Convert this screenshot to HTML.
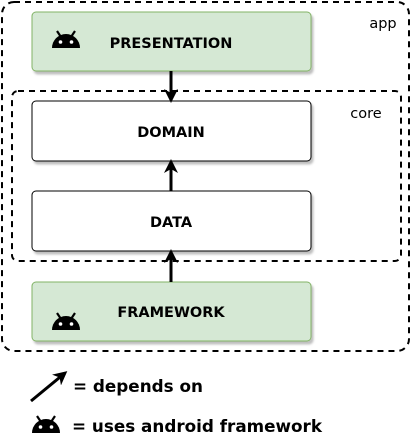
<!DOCTYPE html>
<html><head><style>
body{margin:0;width:412px;height:442px;background:#fff;overflow:hidden}
</style></head><body>
<svg width="412" height="442" xmlns="http://www.w3.org/2000/svg" font-family="'DejaVu Sans',Verdana,sans-serif">
<defs>
<marker id="ah" markerWidth="14" markerHeight="14" refX="11" refY="7" orient="auto" markerUnits="userSpaceOnUse">
<path d="M0,0 L14,7 L0,14 L4,7 Z" fill="#000"/></marker>
<g id="droid"><path d="M0,17 A14,14 0 0 1 28,17 Z" fill="#000"/><line x1="5" y1="0" x2="9" y2="6" stroke="#000" stroke-width="2.2"/><line x1="23" y1="0" x2="19" y2="6" stroke="#000" stroke-width="2.2"/><circle cx="8.5" cy="11" r="1.8" fill="#fff"/><circle cx="19.5" cy="11" r="1.8" fill="#fff"/></g>
<filter id="sh"><feDropShadow dx="2" dy="3" stdDeviation="1" flood-opacity="0.25"/></filter>
</defs>
<rect x="2" y="2" width="407" height="349" rx="12" fill="none" stroke="#000" stroke-width="2" stroke-dasharray="6,5"/>
<text x="383" y="28" font-size="14.5" text-anchor="middle">app</text>
<rect x="12" y="91" width="389" height="170" rx="6" fill="none" stroke="#000" stroke-width="2" stroke-dasharray="6,5"/>
<text x="366" y="118" font-size="14.5" text-anchor="middle">core</text>
<rect x="32" y="12" width="279" height="59" rx="4" fill="#d5e8d4" stroke="#82b366" filter="url(#sh)"/>
<use href="#droid" x="52" y="31"/>
<text x="171" y="48" font-size="14.5" font-weight="bold" text-anchor="middle">PRESENTATION</text>
<rect x="32" y="101" width="279" height="60" rx="4" fill="#fff" stroke="#000" filter="url(#sh)"/>
<text x="171" y="137" font-size="14.5" font-weight="bold" text-anchor="middle">DOMAIN</text>
<rect x="32" y="191" width="279" height="60" rx="4" fill="#fff" stroke="#000" filter="url(#sh)"/>
<text x="171" y="227" font-size="14.5" font-weight="bold" text-anchor="middle">DATA</text>
<rect x="32" y="282" width="279" height="59" rx="4" fill="#d5e8d4" stroke="#82b366" filter="url(#sh)"/>
<use href="#droid" x="52" y="313"/>
<text x="171" y="317" font-size="14.5" font-weight="bold" text-anchor="middle">FRAMEWORK</text>
<line x1="171" y1="71" x2="171" y2="100" stroke="#000" stroke-width="3" marker-end="url(#ah)"/>
<line x1="171" y1="191" x2="171" y2="162" stroke="#000" stroke-width="3" marker-end="url(#ah)"/>
<line x1="171" y1="282" x2="171" y2="252" stroke="#000" stroke-width="3" marker-end="url(#ah)"/>
<line x1="31" y1="401" x2="65" y2="373" stroke="#000" stroke-width="3" marker-end="url(#ah)"/>
<text x="73" y="392" font-size="16.8" font-weight="bold">= depends on</text>
<use href="#droid" x="32" y="416"/>
<text x="72" y="432" font-size="16.8" font-weight="bold">= uses android framework</text>
</svg>
</body></html>
